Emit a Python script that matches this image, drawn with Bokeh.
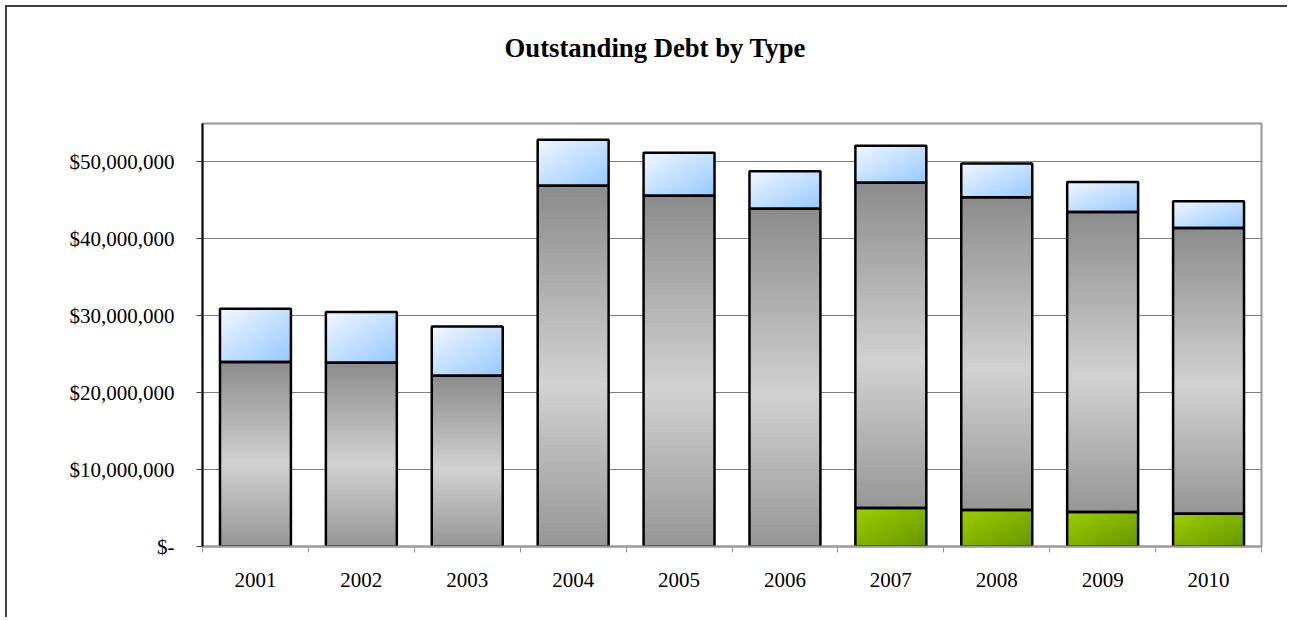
import numpy as np
from bokeh.plotting import figure
from bokeh.models import Range1d, FixedTicker, NumeralTickFormatter, Div
from bokeh.layouts import column
from bokeh.embed import file_html
from bokeh.resources import INLINE

# ---- data ----
years = ["2001", "2002", "2003", "2004", "2005", "2006", "2007", "2008", "2009", "2010"]
green_vals = [0, 0, 0, 0, 0, 0, 5.0e6, 4.75e6, 4.5e6, 4.25e6]
gray_vals = [24.0e6, 23.9e6, 22.2e6, 46.9e6, 45.6e6, 43.9e6, 42.3e6, 40.65e6, 39.0e6, 37.15e6]
blue_vals = [6.9e6, 6.6e6, 6.4e6, 6.0e6, 5.6e6, 4.9e6, 4.8e6, 4.4e6, 3.9e6, 3.5e6]
y_tick_values = [0, 10e6, 20e6, 30e6, 40e6, 50e6]
y_tick_labels = ["$-", "$10,000,000", "$20,000,000", "$30,000,000", "$40,000,000", "$50,000,000"]
title_text = "Outstanding Debt by Type"

FONT = "Liberation Serif"
BAR_W = 0.67


def hex2rgb(h):
    h = h.lstrip("#")
    return np.array([int(h[i:i + 2], 16) for i in (0, 2, 4)], dtype=float)


def to_rgba(arr):
    h, w, _ = arr.shape
    img = np.empty((h, w), dtype=np.uint32)
    view = img.view(dtype=np.uint8).reshape((h, w, 4))
    view[:, :, :3] = np.clip(arr, 0, 255).astype(np.uint8)
    view[:, :, 3] = 255
    return img


def vertical_gradient(stops, n=96):
    # stops: list of (t, hex), t=0 bottom, t=1 top; row 0 drawn at bottom
    ts = np.linspace(0, 1, n)
    pos = [s[0] for s in stops]
    cols = np.array([hex2rgb(s[1]) for s in stops])
    rgb = np.stack([np.interp(ts, pos, cols[:, k]) for k in range(3)], axis=1)
    arr = np.repeat(rgb[:, None, :], 2, axis=1)
    return to_rgba(arr)


def diagonal_gradient(c_tl, c_br, n=64):
    a, b = hex2rgb(c_tl), hex2rgb(c_br)
    rows = np.arange(n)[:, None] / (n - 1)  # 0 bottom .. 1 top
    cols = np.arange(n)[None, :] / (n - 1)
    t = (cols + (1 - rows)) / 2.0
    arr = a[None, None, :] * (1 - t[:, :, None]) + b[None, None, :] * t[:, :, None]
    return to_rgba(arr)


gray_img = vertical_gradient([(0.0, "#979797"), (0.45, "#d2d2d2"), (1.0, "#8c8c8c")])
blue_img = diagonal_gradient("#f2f8ff", "#96c9ff")
green_img = diagonal_gradient("#9ccf00", "#679700")

xs = np.arange(1, len(years) + 1, dtype=float)
green_arr = np.array(green_vals)
gray_arr = np.array(gray_vals)
blue_arr = np.array(blue_vals)
gray_bottom = green_arr
gray_top = green_arr + gray_arr
blue_top = gray_top + blue_arr

title_div = Div(
    text=f"<div style='display:block; width:1280px; text-align:center; font-family:\"{FONT}\"; "
         f"font-weight:bold; font-size:26.7px; line-height:30px; color:black; "
         f"padding-top:26px; padding-left:16px;'>{title_text}</div>",
    width=1280, height=70, margin=0,
)

p = figure(
    width=1280, height=540,
    x_range=Range1d(0.5, 10.5), y_range=Range1d(0, 55e6),
    output_backend="svg", toolbar_location=None,
    min_border_left=195, min_border_right=26, min_border_top=46, min_border_bottom=71,
    background_fill_color="white", border_fill_color="white",
)

# gradient segments
has_green = green_arr > 0
n_g = int(has_green.sum())
p.image_rgba(image=[green_img] * n_g, x=list(xs[has_green] - BAR_W / 2),
             y=[0.0] * n_g, dw=[BAR_W] * n_g, dh=list(green_arr[has_green]))
p.image_rgba(image=[gray_img] * len(xs), x=list(xs - BAR_W / 2), y=list(gray_bottom),
             dw=[BAR_W] * len(xs), dh=list(gray_arr))
p.image_rgba(image=[blue_img] * len(xs), x=list(xs - BAR_W / 2), y=list(gray_top),
             dw=[BAR_W] * len(xs), dh=list(blue_arr))

# outlines
p.vbar(x=xs[has_green], bottom=0, top=green_arr[has_green], width=BAR_W,
       fill_alpha=0, line_color="black", line_width=2.5)
p.vbar(x=xs, bottom=gray_bottom, top=gray_top, width=BAR_W,
       fill_alpha=0, line_color="black", line_width=2.5)
p.vbar(x=xs, bottom=gray_top, top=blue_top, width=BAR_W,
       fill_alpha=0, line_color="black", line_width=2.5)

# x axis
p.xaxis.ticker = FixedTicker(ticks=list(xs), minor_ticks=list(np.arange(0.5, len(years) + 1, 1.0)))
p.xaxis.major_label_overrides = {float(x): y for x, y in zip(xs, years)}
p.xaxis.major_tick_out = 0
p.xaxis.major_tick_in = 0
p.xaxis.minor_tick_out = 6
p.xaxis.minor_tick_in = 0
p.xaxis.minor_tick_line_color = "#9a9a9a"
p.xaxis.minor_tick_line_width = 1
p.xaxis.axis_line_color = "#9a9a9a"
p.xaxis.axis_line_width = 2
p.xaxis.major_label_standoff = 20
p.xaxis.major_label_text_font = FONT
p.xaxis.major_label_text_font_size = "21px"
p.xaxis.major_label_text_color = "black"

# y axis
p.yaxis.ticker = FixedTicker(ticks=y_tick_values)
p.yaxis.formatter = NumeralTickFormatter(format="$0,0")
p.yaxis.major_label_overrides = {float(v): l for v, l in zip(y_tick_values, y_tick_labels)}
p.yaxis.major_tick_out = 6
p.yaxis.major_tick_in = 0
p.yaxis.minor_tick_out = 0
p.yaxis.minor_tick_in = 0
p.yaxis.major_tick_line_color = "#404040"
p.yaxis.axis_line_color = "black"
p.yaxis.axis_line_width = 2
p.yaxis.major_label_standoff = 22
p.yaxis.major_label_text_font = FONT
p.yaxis.major_label_text_font_size = "21px"
p.yaxis.major_label_text_color = "black"

p.xgrid.visible = False
p.ygrid.grid_line_color = "#808080"
p.ygrid.grid_line_width = 1

p.outline_line_color = "#999999"
p.outline_line_width = 2

layout = column(title_div, p, spacing=0)
layout.styles = {"margin-left": "5px", "margin-top": "5px",
                 "border-top": "2px solid #404040", "border-left": "2px solid #404040",
                 "background-color": "white"}

open("out.html", "w").write(file_html(layout, INLINE))
